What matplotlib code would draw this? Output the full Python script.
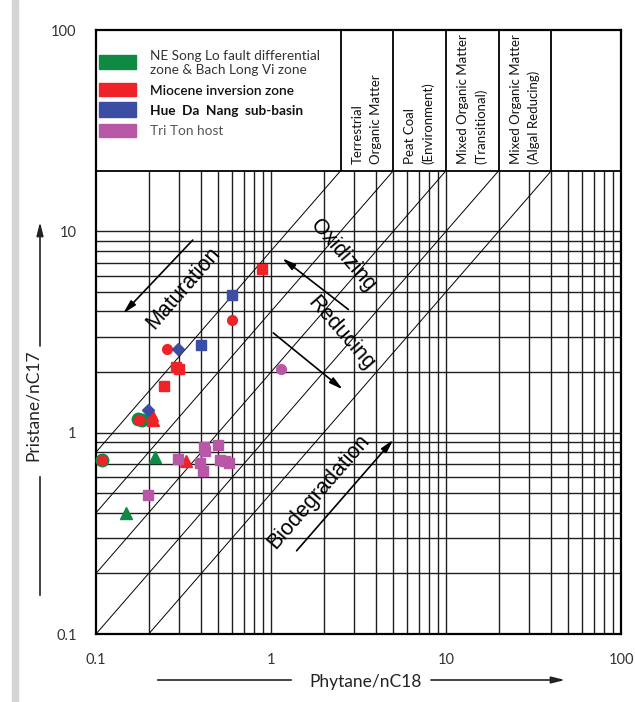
import matplotlib.pyplot as plt
import numpy as np
from matplotlib.patches import Rectangle, FancyArrowPatch

# Pristane/nC17 vs Phytane/nC18 cross plot with depositional environment fields

# NE Song Lo fault differential zone & Bach Long Vi zone
green_circ_x = [0.108, 0.174, 0.184]
green_circ_y = [0.73, 1.17, 1.15]
green_tri_x = [0.217, 0.148]
green_tri_y = [0.76, 0.40]

# Miocene inversion zone
red_circ_x = [0.596, 0.255, 0.176, 0.108]
red_circ_y = [3.62, 2.61, 1.16, 0.73]
red_sq_x = [0.89, 0.286, 0.297, 0.246]
red_sq_y = [6.5, 2.13, 2.06, 1.70]
red_tri_x = [0.208, 0.211, 0.326]
red_tri_y = [1.23, 1.16, 0.72]

# Hue Da Nang sub-basin
blue_sq_x = [0.596, 0.396]
blue_sq_y = [4.81, 2.71]
blue_dia_x = [0.295, 0.199]
blue_dia_y = [2.61, 1.30]

# Tri Ton host
pink_circ_x = [1.14]
pink_circ_y = [2.06]
pink_sq_x = [0.414, 0.42, 0.496, 0.295, 0.393, 0.407, 0.511, 0.545, 0.575, 0.197]
pink_sq_y = [0.851, 0.81, 0.865, 0.74, 0.706, 0.647, 0.734, 0.72, 0.71, 0.49]

GREEN = '#0f8a45'
RED = '#ee2227'
BLUE = '#3b4ea3'
PINK = '#b857a6'

legend_colors = [GREEN, RED, BLUE, PINK]
legend_labels = ["NE Song Lo fault differential\nzone & Bach Long Vi zone",
                 "Miocene inversion zone",
                 "Hue  Da  Nang  sub-basin",
                 "Tri Ton host"]

env_edges = [2.5, 5, 10, 20, 40, 100]
env_labels = ["Terrestrial\nOrganic Matter",
              "Peat Coal\n(Environment)",
              "Mixed Organic Matter\n(Transitional)",
              "Mixed Organic Matter\n(Algal Reducing)"]

pr_ph = [8, 4, 2, 1, 0.5]
grid_top = 20

SANS = ['Lato', 'DejaVu Sans']
ARIAL = ['Liberation Sans', 'DejaVu Sans']

fig = plt.figure(figsize=(6.35, 7.02), dpi=100)
fig.patches.append(Rectangle((12 / 635, 0), 6 / 635, 1, transform=fig.transFigure,
                             color='#d4d4d4', zorder=0))
ax = fig.add_axes([96 / 635, 68 / 702, 525 / 635, 604 / 702])
ax.set_xscale('log')
ax.set_yscale('log')
ax.set_xlim(0.1, 100)
ax.set_ylim(0.1, 100)

# log grid, only below the header box
minor = np.concatenate([np.arange(1, 10) * 0.1, np.arange(1, 10), [10]])
xg = np.concatenate([minor[1:], np.arange(2, 10) * 10])
yg = minor[1:]
ax.vlines(xg, 0.1, grid_top, color='0.12', lw=1.0, zorder=1)
ax.hlines(yg, 0.1, 100, color='0.12', lw=1.0, zorder=1)

# constant Pr/Ph lines
for k in pr_ph:
    x0 = max(0.1, 0.1 / k)
    x1 = grid_top / k
    ax.plot([x0, x1], [k * x0, k * x1], color='black', lw=0.7, zorder=1)

# header box
ax.hlines(grid_top, 0.1, 100, color='black', lw=1.3, zorder=2)
ax.vlines(env_edges[:-1], grid_top, 100, color='black', lw=1.3, zorder=2)
for lo, hi, lab in zip(env_edges[:-1], env_edges[1:], env_labels):
    ax.text(np.sqrt(lo * hi), 21.6, lab, rotation=90, ha='center', va='bottom',
            multialignment='left', fontsize=9.5, linespacing=1.55,
            family=SANS, color='#111111')

# legend inside the header
patch_y = [(0.9354, 0.9586), (0.8907, 0.9123), (0.856, 0.881), (0.823, 0.844)]
text_y = [0.946, 0.8985, 0.866, 0.832]
styles = [('normal', '#333333'), ('semibold', '#111111'), ('bold', '#111111'), ('normal', '#555555')]
for c, (y0, y1), ty, lab, (w, tc) in zip(legend_colors, patch_y, text_y, legend_labels, styles):
    ax.add_patch(Rectangle((0.0057, y0), 0.0705, y1 - y0, transform=ax.transAxes,
                           color=c, zorder=3))
    ax.text(0.103, ty, lab, transform=ax.transAxes, va='center', ha='left',
            fontsize=9.8, weight=w, color=tc, family=SANS, linespacing=1.2)

# samples
kw = dict(ls='none', zorder=5, clip_on=False)
ax.plot(green_circ_x, green_circ_y, 'o', color=GREEN, ms=9, **kw)
ax.plot(green_tri_x, green_tri_y, '^', color=GREEN, ms=8, **kw)
ax.plot(red_circ_x, red_circ_y, 'o', color=RED, ms=7, **kw)
ax.plot(red_sq_x, red_sq_y, 's', color=RED, ms=7, **kw)
ax.plot(red_tri_x, red_tri_y, '^', color=RED, ms=8, **kw)
ax.plot(blue_sq_x, blue_sq_y, 's', color=BLUE, ms=7, **kw)
ax.plot(blue_dia_x, blue_dia_y, 'D', color=BLUE, ms=6, **kw)
ax.plot(pink_circ_x, pink_circ_y, 'o', color=PINK, ms=7, **kw)
ax.plot(pink_sq_x, pink_sq_y, 's', color=PINK, ms=7.5, **kw)

# process arrows and labels
arrow = dict(arrowstyle='-|>,head_length=0.8,head_width=0.2', color='black',
             lw=1.2, shrinkA=0, shrinkB=0)
ax.annotate('', xy=(0.143, 3.91), xytext=(0.357, 9.05), arrowprops=arrow, zorder=4)
ax.annotate('', xy=(1.16, 7.35), xytext=(2.77, 4.09), arrowprops=arrow, zorder=4)
ax.annotate('', xy=(2.57, 1.64), xytext=(1.03, 3.13), arrowprops=arrow, zorder=4)
ax.annotate('', xy=(5.0, 0.923), xytext=(1.40, 0.259), arrowprops=arrow, zorder=4)
ax.text(0.314, 5.2, 'Maturation', rotation=49, ha='center', va='center',
        fontsize=15.5, family=ARIAL, zorder=4)
ax.text(2.58, 7.6, 'Oxidizing', rotation=-49, ha='center', va='center',
        fontsize=15.5, family=ARIAL, zorder=4)
ax.text(2.51, 3.11, 'Reducing', rotation=-49, ha='center', va='center',
        fontsize=15.5, family=ARIAL, zorder=4)
ax.text(1.86, 0.509, 'Biodegradation', rotation=49, ha='center', va='center',
        fontsize=15.5, family=ARIAL, zorder=4)

ax.set_xticks([0.1, 1, 10, 100], ['0.1', '1', '10', '100'])
ax.set_yticks([0.1, 1, 10, 100], ['0.1', '1', '10', '100'])
ax.minorticks_off()
ax.tick_params(length=0, labelsize=10.5, labelcolor='#333333', pad=14)
for lab in ax.get_xticklabels() + ax.get_yticklabels():
    lab.set_family(SANS)
for s in ax.spines.values():
    s.set_linewidth(1.6)

# axis titles with direction arrows
head = '-|>,head_length=0.8,head_width=0.2'
fig.text(366 / 635, 1 - 682 / 702, 'Phytane/nC18', ha='center', va='center',
         fontsize=12.5, family=SANS, color='#222222')
fig.add_artist(plt.Line2D([158 / 635, 291 / 635], [1 - 680 / 702] * 2, color='#222222', lw=1.2))
fig.patches.append(FancyArrowPatch(
    (431 / 635, 1 - 680 / 702), (565 / 635, 1 - 680 / 702), transform=fig.transFigure,
    arrowstyle=head, mutation_scale=10, shrinkA=0, shrinkB=0, color='#222222', lw=1.2))
fig.text(33 / 635, 1 - 405 / 702, 'Pristane/nC17', rotation=90, ha='center', va='center',
         fontsize=12.5, family=SANS, color='#222222')
fig.add_artist(plt.Line2D([40 / 635] * 2, [1 - 477 / 702, 1 - 595 / 702], color='#222222', lw=1.2))
fig.patches.append(FancyArrowPatch(
    (40 / 635, 1 - 346 / 702), (40 / 635, 1 - 222 / 702), transform=fig.transFigure,
    arrowstyle=head, mutation_scale=10, shrinkA=0, shrinkB=0, color='#222222', lw=1.2))

fig.savefig('out.png', dpi=100)
